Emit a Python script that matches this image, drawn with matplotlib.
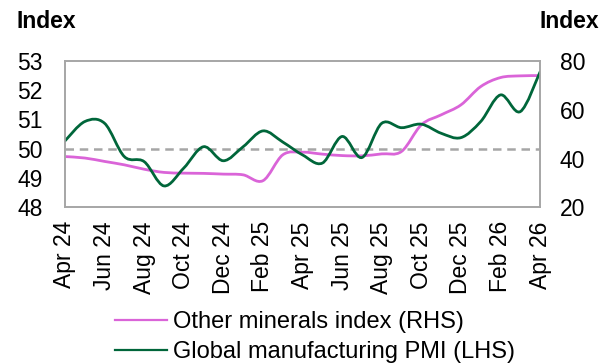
import matplotlib
matplotlib.use("Agg")
import matplotlib.pyplot as plt
import numpy as np
from matplotlib.path import Path
from matplotlib.patches import PathPatch
from matplotlib.lines import Line2D

plt.rcParams['font.family'] = ['Liberation Sans', 'DejaVu Sans']

months = ["Apr 24", "May 24", "Jun 24", "Jul 24", "Aug 24", "Sep 24", "Oct 24",
          "Nov 24", "Dec 24", "Jan 25", "Feb 25", "Mar 25", "Apr 25", "May 25",
          "Jun 25", "Jul 25", "Aug 25", "Sep 25", "Oct 25", "Nov 25", "Dec 25",
          "Jan 26", "Feb 26", "Mar 26", "Apr 26"]

# global manufacturing PMI, left axis
pmi = [50.27, 50.93, 50.87, 49.73, 49.56, 48.73, 49.34, 50.07, 49.59, 50.07,
       50.61, 50.23, 49.79, 49.51, 50.42, 49.70, 50.87, 50.72, 50.84, 50.53,
       50.38, 50.93, 51.84, 51.27, 52.63]

# other minerals index, right axis
minerals = [40.8, 40.2, 38.8, 37.4, 35.6, 34.3, 34.0, 33.9, 33.6, 33.3,
            30.9, 41.5, 42.6, 41.8, 41.2, 41.1, 41.9, 42.9, 53.8, 57.9,
            62.0, 69.5, 73.2, 73.9, 74.0]

left_ticks = [48, 49, 50, 51, 52, 53]
right_ticks = [20, 40, 60, 80]

GREEN = "#00663A"
PINK = "#DA64D8"
GREY = "#A6A6A6"


def smooth_path(x, y):
    # cubic bezier through every point (catmull-rom style tangents)
    n = len(x)
    verts = [(x[0], y[0])]
    codes = [Path.MOVETO]
    for i in range(n - 1):
        a = max(i - 1, 0)
        d = min(i + 2, n - 1)
        c1 = (x[i] + (x[i + 1] - x[a]) / 6, y[i] + (y[i + 1] - y[a]) / 6)
        c2 = (x[i + 1] - (x[d] - x[i]) / 6, y[i + 1] - (y[d] - y[i]) / 6)
        verts += [c1, c2, (x[i + 1], y[i + 1])]
        codes += [Path.CURVE4] * 3
    return Path(verts, codes)


x = np.arange(len(months))

fig = plt.figure(figsize=(6.04, 3.63), dpi=100)
ax = fig.add_axes([0.1076, 0.429, 0.7866, 0.403])
ax2 = ax.twinx()
ax.set_zorder(ax2.get_zorder() + 1)
ax.patch.set_visible(False)

ax.set_xlim(0, len(months) - 1)
ax.set_ylim(48, 53)
ax2.set_ylim(20, 80)

ax.axhline(50, color=GREY, lw=1.8, dashes=(3.4, 2.3), zorder=1)

ax2.add_patch(PathPatch(smooth_path(x, minerals), fill=False, ec=PINK, lw=2.0,
                        capstyle='round'))
ax.add_patch(PathPatch(smooth_path(x, pmi), fill=False, ec=GREEN, lw=2.0,
                       capstyle='round', zorder=2))

ax.set_yticks(left_ticks)
ax2.set_yticks(right_ticks)
ax.set_xticks(x[::2])
ax.set_xticklabels(months[::2], rotation=90)

for a in (ax, ax2):
    a.tick_params(length=0, labelsize=16.5, colors='black')
    for s in a.spines.values():
        s.set_color(GREY)
        s.set_linewidth(1.2)
ax.tick_params(axis='y', pad=16)
ax.tick_params(axis='x', pad=10)
ax2.tick_params(axis='y', pad=14)

fig.text(0.028, 0.94, "Index", fontsize=16.5, fontweight='bold', va='center')
fig.text(0.893, 0.94, "Index", fontsize=16.5, fontweight='bold', va='center')

handles = [Line2D([], [], color=PINK, lw=1.6), Line2D([], [], color=GREEN, lw=1.6)]
fig.legend(handles, ["Other minerals index (RHS)", "Global manufacturing PMI (LHS)"],
           loc='upper left', bbox_to_anchor=(0.19, 0.142), frameon=False,
           fontsize=17, handlelength=2.2, handletextpad=0.25, labelspacing=0.32,
           borderpad=0, borderaxespad=0)

fig.savefig("out.png", dpi=100)
